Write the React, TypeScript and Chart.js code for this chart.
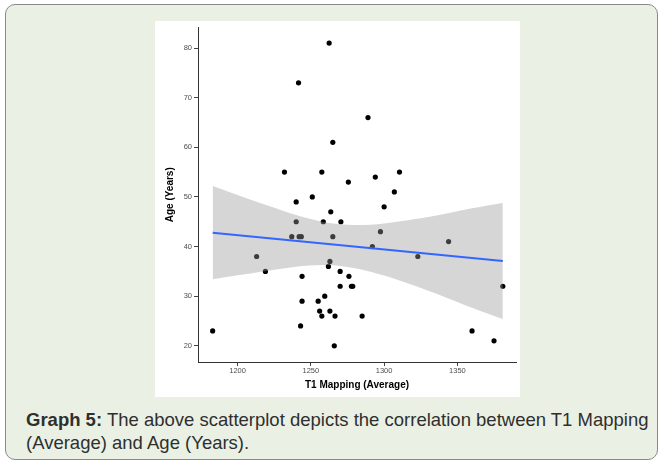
import React, { useEffect, useRef } from "react";
import { Chart, registerables } from "chart.js";

Chart.register(...registerables);

// Scatter points: T1 Mapping (Average) vs Age (Years)
const t1Values = [
  1183, 1213, 1219, 1232, 1237, 1240, 1240, 1241.6, 1242, 1243.5,
  1244, 1244, 1243, 1251, 1255, 1256, 1257.5, 1257.5, 1258.5, 1259.5,
  1262, 1263, 1262.5, 1263, 1263.6, 1265, 1265, 1266.5, 1266, 1270,
  1270.5, 1270, 1275.6, 1276, 1277.7, 1278.6, 1285, 1289, 1292, 1294,
  1297.5, 1300, 1307, 1310.5, 1323, 1344, 1360, 1375, 1381,
];
const ageValues = [
  23, 38, 35, 55, 42, 49, 45, 73, 42, 42,
  34, 29, 24, 50, 29, 27, 26, 55, 45, 30,
  36, 37, 81, 27, 47, 61, 42, 26, 20, 35,
  45, 32, 53, 34, 32, 32, 26, 66, 40, 54,
  43, 48, 51, 55, 38, 41, 23, 21, 32,
];

// Fitted line
const fitX = [1183, 1381];
const fitY = [42.8, 37.1];

// Confidence band
const bandX = [1183, 1200, 1220, 1240, 1260, 1280, 1300, 1320, 1340, 1360, 1381];
const bandLower = [33.4, 34.2, 35.1, 35.95, 36.27, 35.63, 34.17, 32.2, 29.99, 27.65, 25.38];
const bandUpper = [52.2, 50.4, 48.3, 46.35, 44.87, 44.35, 44.67, 45.48, 46.53, 47.71, 48.78];

const xTicks = [1200, 1250, 1300, 1350];
const yTicks = [20, 30, 40, 50, 60, 70, 80];

const FAMILY = "'Liberation Sans', Arial, Helvetica, sans-serif";

export default function App() {
  const canvasRef = useRef<HTMLCanvasElement | null>(null);

  useEffect(() => {
    const canvas = canvasRef.current;
    if (!canvas) return;
    const points = t1Values.map((x, i) => ({ x, y: ageValues[i] }));
    const fit = fitX.map((x, i) => ({ x, y: fitY[i] }));
    const lower = bandX.map((x, i) => ({ x, y: bandLower[i] }));
    const upper = bandX.map((x, i) => ({ x, y: bandUpper[i] }));

    const chart = new Chart(canvas, {
      type: "scatter",
      data: {
        datasets: [
          {
            type: "line",
            data: fit,
            borderColor: "#3366FF",
            borderWidth: 2,
            pointRadius: 0,
            fill: false,
            order: 0,
          } as any,
          {
            type: "line",
            data: lower,
            borderColor: "rgba(0,0,0,0)",
            borderWidth: 0,
            pointRadius: 0,
            tension: 0.35,
            fill: false,
            order: 1,
          } as any,
          {
            type: "line",
            data: upper,
            borderColor: "rgba(0,0,0,0)",
            borderWidth: 0,
            pointRadius: 0,
            tension: 0.35,
            fill: "-1",
            backgroundColor: "rgba(153,153,153,0.4)",
            order: 1,
          } as any,
          {
            data: points,
            backgroundColor: "#000000",
            borderWidth: 0,
            pointRadius: 2.6,
            order: 2,
          },
        ],
      },
      options: {
        animation: false,
        responsive: false,
        maintainAspectRatio: false,
        devicePixelRatio: 1,
        layout: { padding: { top: 4, right: 3, left: 0, bottom: 0 } },
        plugins: {
          legend: { display: false },
          tooltip: { enabled: false },
        },
        scales: {
          x: {
            type: "linear",
            min: 1173,
            max: 1390,
            afterBuildTicks: (s: any) => {
              s.ticks = xTicks.map((v) => ({ value: v }));
            },
            afterFit: (s: any) => {
              s.height = 35;
            },
            ticks: {
              font: { size: 7.5, family: FAMILY },
              color: "#4d4d4d",
              padding: 0,
              maxRotation: 0,
              autoSkip: false,
              callback: (v: any) => String(v),
            },
            grid: {
              display: true,
              drawOnChartArea: false,
              drawTicks: true,
              tickLength: 4,
              color: "#444",
              lineWidth: 1,
            },
            border: { display: true, color: "#333", width: 1 },
            title: {
              display: true,
              text: "T1 Mapping (Average)",
              font: { size: 10, weight: "bold", family: FAMILY },
              color: "#000",
              padding: { top: 0, bottom: 6 },
            },
          },
          y: {
            type: "linear",
            min: 16.74,
            max: 84.14,
            afterBuildTicks: (s: any) => {
              s.ticks = yTicks.map((v) => ({ value: v }));
            },
            afterFit: (s: any) => {
              s.width = 43;
            },
            ticks: {
              font: { size: 7.5, family: FAMILY },
              color: "#4d4d4d",
              padding: 2,
              autoSkip: false,
              callback: (v: any) => String(v),
            },
            grid: {
              display: true,
              drawOnChartArea: false,
              drawTicks: true,
              tickLength: 4,
              color: "#444",
              lineWidth: 1,
            },
            border: { display: true, color: "#333", width: 1 },
            title: {
              display: true,
              text: "Age (Years)",
              font: { size: 10, weight: "bold", family: FAMILY },
              color: "#000",
              padding: { top: 9.7, bottom: 0 },
            },
          },
        },
      } as any,
    });
    return () => chart.destroy();
  }, []);

  return (
    <div
      style={{
        position: "absolute",
        left: 0,
        top: 0,
        width: 664,
        height: 463,
        background: "#ffffff",
        overflow: "hidden",
      }}
    >
      <div
        style={{
          position: "absolute",
          left: 5,
          top: 4,
          width: 651,
          height: 454,
          background: "#eaf1e4",
          border: "1.5px solid #8a8a8a",
          borderRadius: 10,
        }}
      />
      <div
        style={{
          position: "absolute",
          left: 155,
          top: 21,
          width: 365,
          height: 376,
          background: "#ffffff",
        }}
      >
        <canvas
          ref={canvasRef}
          width={365}
          height={376}
          style={{ display: "block", width: 365, height: 376 }}
        />
      </div>
      <div
        style={{
          position: "absolute",
          left: 26,
          top: 409,
          fontFamily: FAMILY,
          fontSize: 18.5,
          lineHeight: "22.6px",
          color: "#2f2f2f",
          whiteSpace: "nowrap",
        }}
      >
        <b>Graph 5:</b> The above scatterplot depicts the correlation between T1 Mapping
        <br />
        (Average) and Age (Years).
      </div>
    </div>
  );
}
